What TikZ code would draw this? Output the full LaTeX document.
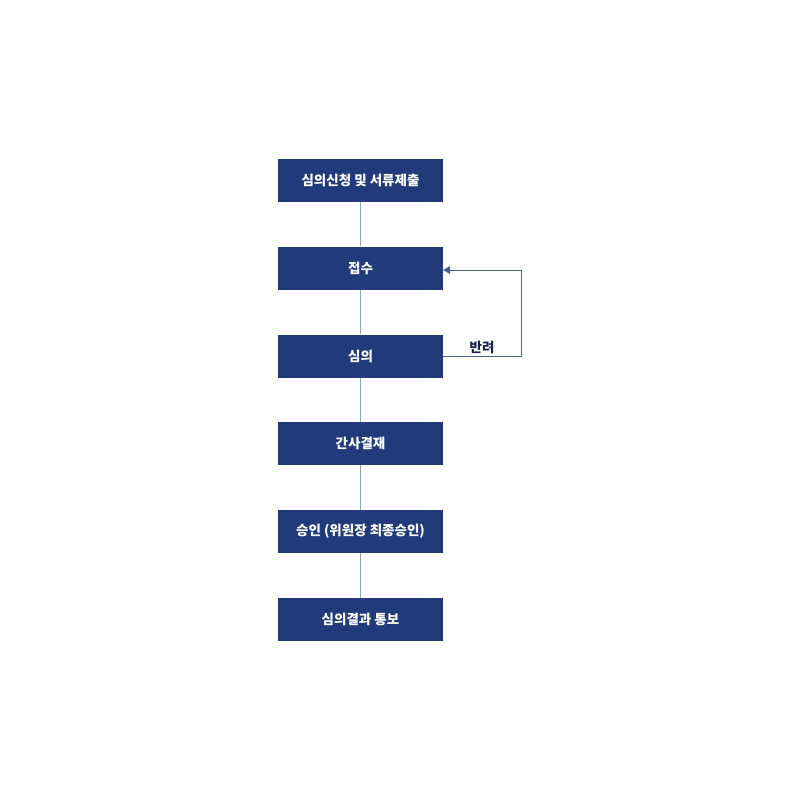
\documentclass[tikz,border=0pt]{standalone}
\usepackage{fontspec}
\setmainfont{Noto Sans CJK KR}
\usetikzlibrary{arrows.meta}
\definecolor{boxblue}{HTML}{213A79}
\definecolor{linkblue}{HTML}{8C9DC9}
\definecolor{loopblue}{HTML}{4A5F9C}
\definecolor{labelc}{HTML}{1B2450}
\tikzset{
  stepbox/.style={draw=none, fill=boxblue, text=white, minimum width=165pt, minimum height=43pt, inner sep=0pt, font=\fontsize{13.5}{15}\selectfont\bfseries},
  link/.style={draw=linkblue, line width=1pt},
  backlink/.style={draw=loopblue, line width=0.9pt, -{Triangle[length=7pt,width=8pt]}},
}
\begin{document}
\begin{tikzpicture}[x=1pt,y=-1pt]
\useasboundingbox (0,0) rectangle (800,800);
\node[stepbox] (s1) at (360.5,180.5) {심의신청 및 서류제출};
\node[stepbox] (s2) at (360.5,268) {접수};
\node[stepbox] (s3) at (360.5,356) {심의};
\node[stepbox] (s4) at (360.5,443.5) {간사결재};
\node[stepbox] (s5) at (360.5,531.5) {승인 (위원장 최종승인)};
\node[stepbox] (s6) at (360.5,619.5) {심의결과 통보};
\draw[link] (s1) -- (s2);
\draw[link] (s2) -- (s3);
\draw[link] (s3) -- (s4);
\draw[link] (s4) -- (s5);
\draw[link] (s5) -- (s6);
\coordinate (c1) at (521.5,356);
\coordinate (c2) at (521.5,270);
\draw[backlink] (s3.east) -- (c1) -- (c2) -- (s2.east |- c2);
\node[text=labelc, font=\fontsize{13.5}{15}\selectfont\bfseries, anchor=south, inner sep=1pt] (lbl) at (482,355) {반려};
\end{tikzpicture}
\end{document}
